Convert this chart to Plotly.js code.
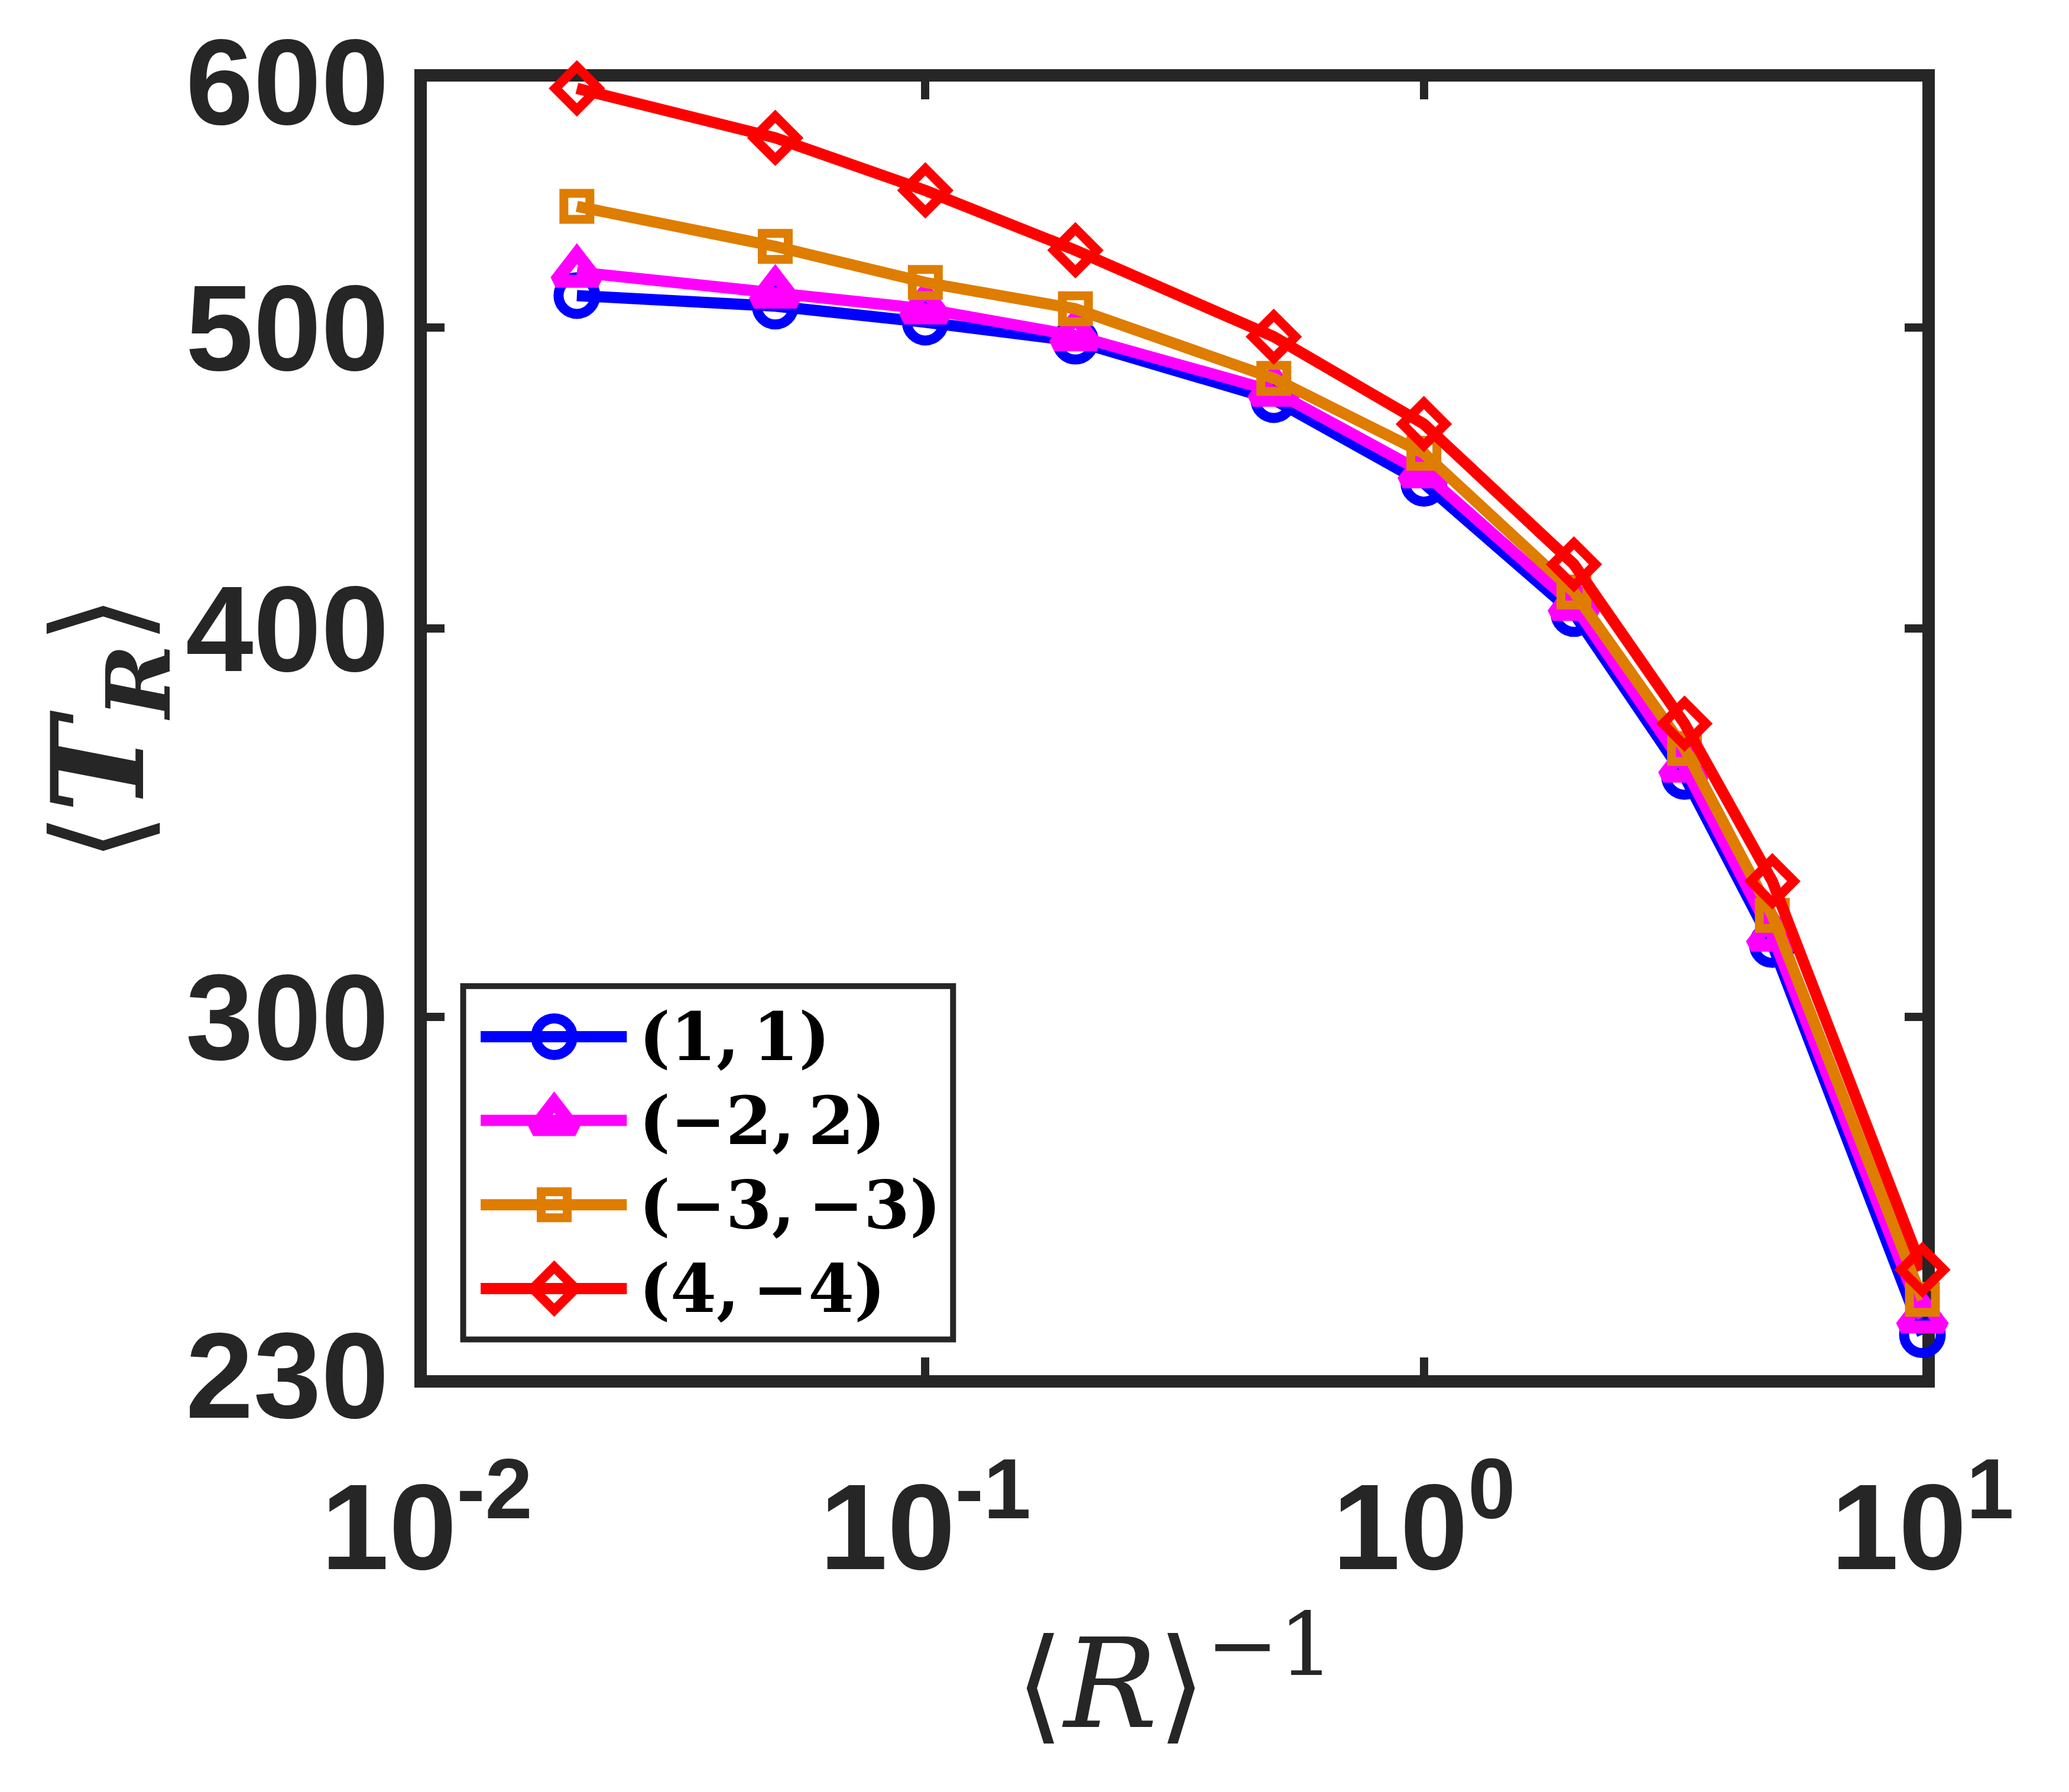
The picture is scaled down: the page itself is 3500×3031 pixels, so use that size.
<!DOCTYPE html>
<html>
<head>
<meta charset="utf-8">
<script src="https://cdn.plot.ly/plotly-3.0.1.min.js"></script>
<style>
  html, body { margin: 0; padding: 0; background: #fff; }
  #chart { width: 3500px; height: 3031px; }
</style>
</head>
<body>
<div id="chart"></div>
<script>
// inverse mean R on the x axis, <T_R> on the y axis (both log)
const invR = [0.02, 0.05, 0.1, 0.2, 0.5, 1, 2, 3.333, 5, 10];

const tr_1_1   = [512, 508, 502, 495, 474, 445.5, 404.5, 358.5, 316.5, 237];
const tr_m2_2  = [521, 513, 507, 497, 477, 449, 407, 361, 318.5, 240];
const tr_m3_m3 = [547, 531, 517, 507, 481.5, 455.5, 411, 366, 323.4, 243.3];
const tr_4_m4  = [597, 575.5, 553.5, 529.5, 496.6, 465.5, 419.5, 372.8, 331.7, 248.7];

const seriesNames = ['(1,\u20091)', '(\u22122,\u20092)', '(\u22123,\u2009\u22123)', '(4,\u2009\u22124)'];

const xTickVals = [0.01, 0.1, 1, 10];
const xTickText = ['10<sup>-2</sup>', '10<sup>-1</sup>', '10<sup>0</sup>', '10<sup>1</sup>'];
const yTickVals = [230, 300, 400, 500, 600];
const yTickText = ['230', '300', '400', '500', '600'];

const axisColor = '#262626';
const styles = [
    { color: '#0000ff', symbol: 'circle-open',      size: 62, lw: 17 },
    { color: '#ff00ff', symbol: 'triangle-up-open', size: 62, lw: 22 },
    { color: '#de7d00', symbol: 'square-open',      size: 44, lw: 15 },
    { color: '#ff0000', symbol: 'diamond-open',     size: 56, lw: 16 }
];
const allSeries = [tr_1_1, tr_m2_2, tr_m3_m3, tr_4_m4];

const traces = allSeries.map((vals, i) => ({
    x: invR,
    y: vals,
    type: 'scatter',
    mode: 'lines+markers',
    name: seriesNames[i],
    cliponaxis: false,
    line: { color: styles[i].color, width: 19 },
    marker: {
        symbol: styles[i].symbol,
        size: styles[i].size,
        color: styles[i].color,
        line: { color: styles[i].color, width: styles[i].lw }
    },
    showlegend: false
}));

// hand-made legend on its own little axis pair so the samples are large
const legRows = [0.863, 0.622, 0.379, 0.138];
const annotations = [];
allSeries.forEach((vals, i) => {
    traces.push({
        x: [0.03, 0.332], y: [legRows[i], legRows[i]],
        xaxis: 'x2', yaxis: 'y2', mode: 'lines', type: 'scatter',
        line: { color: styles[i].color, width: 19 },
        showlegend: false, hoverinfo: 'skip'
    });
    traces.push({
        x: [0.182], y: [legRows[i]],
        xaxis: 'x2', yaxis: 'y2', mode: 'markers', type: 'scatter',
        cliponaxis: false,
        marker: {
            symbol: styles[i].symbol, size: styles[i].size, color: styles[i].color,
            line: { color: styles[i].color, width: styles[i].lw }
        },
        showlegend: false, hoverinfo: 'skip'
    });
    annotations.push({
        xref: 'x2', yref: 'y2', x: 0.355, y: legRows[i],
        xanchor: 'left', yanchor: 'middle', showarrow: false,
        text: '<b>' + seriesNames[i] + '</b>',
        font: { family: 'DejaVu Serif', size: 112, color: '#000' }
    });
});

// axis titles
annotations.push({
    xref: 'paper', yref: 'paper', x: 0.5, y: -0.232,
    xanchor: 'center', yanchor: 'middle', showarrow: false,
    text: '\u27e8<i>R</i>\u27e9<sup>\u22121</sup>',
    font: { family: 'DejaVu Serif, Liberation Serif, serif', size: 210, color: axisColor }
});
annotations.push({
    xref: 'paper', yref: 'paper', x: -0.214, y: 0.5,
    xanchor: 'center', yanchor: 'middle', showarrow: false, textangle: -90,
    text: '\u27e8<b><i>T</i></b><sub><b><i>R</i></b></sub>\u27e9',
    font: { family: 'DejaVu Serif, Liberation Serif, serif', size: 215, color: axisColor }
});

const legX = [0.0263, 0.3499];
const legY = [0.0299, 0.2985];

const layout = {
    width: 3500,
    height: 3031,
    paper_bgcolor: '#ffffff',
    plot_bgcolor: '#ffffff',
    margin: { l: 722, r: 248, t: 138, b: 705 },
    showlegend: false,
    xaxis: {
        type: 'log',
        range: [-2, 1],
        tickvals: xTickVals,
        ticktext: xTickText,
        ticks: 'inside',
        ticklen: 30,
        tickwidth: 14,
        tickcolor: axisColor,
        showline: true,
        linewidth: 21,
        linecolor: axisColor,
        mirror: 'ticks',
        showgrid: false,
        zeroline: false,
        layer: 'below traces',
        ticklabelstandoff: 60,
        tickfont: { family: 'Liberation Sans, Arial, sans-serif', size: 206, weight: 'bold', color: axisColor }
    },
    yaxis: {
        type: 'log',
        range: [Math.log10(230), Math.log10(600)],
        tickvals: yTickVals,
        ticktext: yTickText,
        ticks: 'inside',
        ticklen: 30,
        tickwidth: 14,
        tickcolor: axisColor,
        showline: true,
        linewidth: 21,
        linecolor: axisColor,
        mirror: 'ticks',
        showgrid: false,
        zeroline: false,
        layer: 'below traces',
        ticklabelstandoff: 2,
        tickfont: { family: 'Liberation Sans, Arial, sans-serif', size: 206, weight: 'bold', color: axisColor }
    },
    xaxis2: {
        domain: legX, range: [0, 1], anchor: 'y2',
        visible: false, fixedrange: true
    },
    yaxis2: {
        domain: legY, range: [0, 1], anchor: 'x2',
        visible: false, fixedrange: true
    },
    shapes: [{
        type: 'rect', xref: 'paper', yref: 'paper',
        x0: legX[0], x1: legX[1], y0: legY[0], y1: legY[1],
        line: { color: axisColor, width: 20 },
        fillcolor: '#ffffff',
        layer: 'below'
    }],
    annotations: annotations
};

Plotly.newPlot('chart', traces, layout, { displayModeBar: false, staticPlot: true });
</script>
</body>
</html>
